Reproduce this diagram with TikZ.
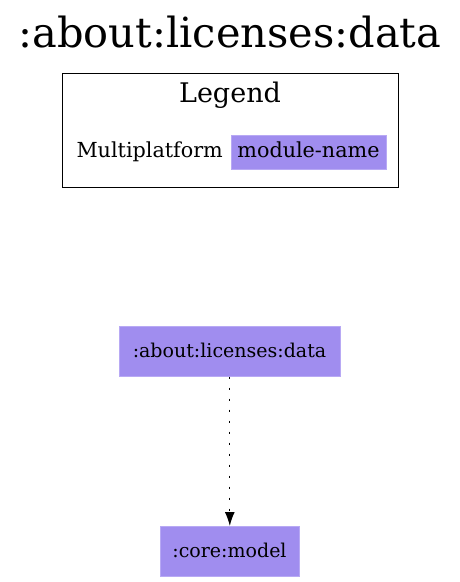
\documentclass[tikz,border=0pt]{standalone}
\usepackage{fontspec}
\setmainfont{DejaVu Serif}
\usetikzlibrary{arrows.meta}
\definecolor{modfill}{HTML}{A08DEF}
\definecolor{modline}{HTML}{B8A9F4}
\begin{document}
\begin{tikzpicture}[x=1pt,y=-1pt,
  modbox/.style={fill=modfill,draw=modline,line width=0.6pt,inner sep=0pt,anchor=north west},
  lbl/.style={inner sep=0pt,font=\fontsize{19}{22}\selectfont},
  leglbl/.style={inner sep=0pt,font=\fontsize{20.7}{24}\selectfont},
  dep/.style={line width=1.3pt,dash pattern=on 2.2pt off 8.8pt,-{Latex[length=14pt,width=10pt]}}]
\useasboundingbox (0,0) rectangle (460,582);
\node[inner sep=0pt,font=\fontsize{41.5}{46}\selectfont,anchor=base] (title) at (230,47) {:about:licenses:data};
\node[draw=black,line width=0.8pt,minimum width=336pt,minimum height=114pt,inner sep=0pt,anchor=north west] (legend) at (62,73) {};
\node[inner sep=0pt,font=\fontsize{27}{30}\selectfont,anchor=base] (legendtitle) at (230,102) {Legend};
\node[leglbl,anchor=base east] (mp) at (223,157) {Multiplatform};
\node[modbox,minimum width=155pt,minimum height=34pt] (modname) at (231,135) {};
\node[leglbl,anchor=base] (modnametext) at (308.5,157) {module-name};
\node[modbox,minimum width=221pt,minimum height=50pt] (a) at (119,326) {};
\node[lbl,anchor=base] (atext) at (229.5,357) {:about:licenses:data};
\node[modbox,minimum width=139pt,minimum height=50pt] (b) at (160,526) {};
\node[lbl,anchor=base] (btext) at (229.5,557) {:core:model};
\draw[dep] (a.south) -- (b.north);
\end{tikzpicture}
\end{document}
